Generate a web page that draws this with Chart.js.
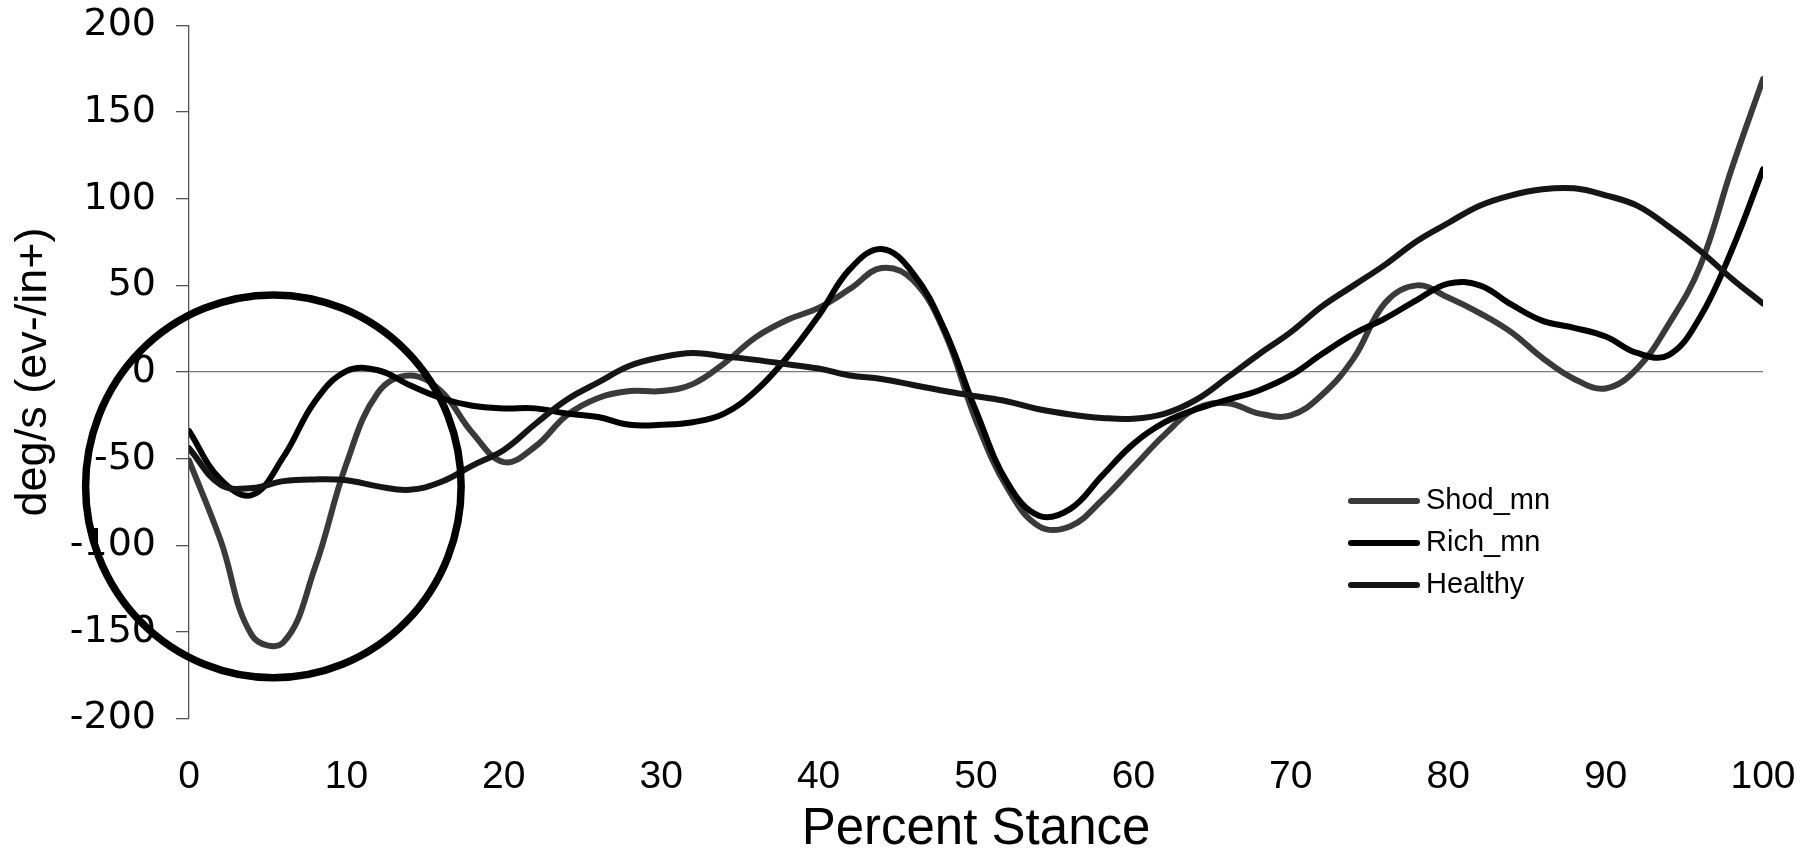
<!DOCTYPE html>
<html>
<head>
<meta charset="utf-8">
<title>Percent Stance</title>
<script src="https://cdn.jsdelivr.net/npm/chart.js@4.4.1/dist/chart.umd.min.js"></script>
<style>
  html, body { margin: 0; padding: 0; background: #fff; overflow: hidden; }
  #wrap { width: 1817px; height: 855px; position: relative; }
</style>
</head>
<body>
<div id="wrap"><canvas id="stanceChart"></canvas></div>
<script>
// percent of stance (x)
var stance = [0, 2, 4, 6, 8, 10, 12, 14, 16, 18, 20, 22, 24, 26, 28, 30, 32, 34, 36, 38, 40,
  42, 44, 46, 48, 50, 52, 54, 56, 58, 60, 62, 64, 66, 68, 70, 72, 74, 76, 78, 80,
  82, 84, 86, 88, 90, 92, 94, 96, 98, 100];

// deg/s
var shodMn = [-51, -97, -152, -156, -113, -53, -12, -2, -11, -35, -52, -43, -25, -15, -11, -11, -7, 5, 20, 30, 37,
  48, 60, 53, 23, -28, -67, -89, -89, -74, -55, -36, -21, -18, -24, -25, -13, 8, 40, 50, 43,
  34, 23, 8, -4, -9.5, 2, 27.5, 61, 117, 169];
var richMn = [-34, -62, -71, -49, -17, 0.5, 1, -7.5, -15, -19.5, -21, -21, -24, -26, -30.5, -30.5, -29, -24, -11, 8.5, 32.5,
  59.5, 71, 57, 24.5, -22.5, -64, -83, -79, -60, -41.5, -29, -21.5, -16, -10.5, -2, 10.5, 22, 31, 41.5, 51,
  50, 39, 29.5, 25.5, 20.5, 11, 9.7, 31.6, 70, 117];
var healthy = [-44, -65, -67, -63, -62, -62.5, -66, -68, -63.5, -54, -45, -30, -16, -6, 3.6, 8.5, 11, 9, 7, 4.5, 2,
  -2, -4, -7.5, -11, -14, -17, -21.5, -24.5, -26.5, -27, -24, -16, -3, 10.4, 23, 38, 50, 62, 75.5, 86,
  96, 102, 105.5, 106, 102, 96, 84, 70, 54, 39.5];

var seriesNames = ["Shod_mn", "Rich_mn", "Healthy"];
var seriesColors = ["#3a3a3a", "#000000", "#151515"];

// circled region: centre x, centre y, radius x, radius y (data units)
var circleMark = [5.36, -66, 11.93, 110.5];

var fontFamily = '"Liberation Sans", Arial, Helvetica, sans-serif';

function toPoints(values) {
  return stance.map(function (x, i) { return { x: x, y: values[i] }; });
}

// legend sitting inside the plot, right of centre
var insideLegend = {
  id: 'insideLegend',
  afterDraw: function (chart, args, opts) {
    var ctx = chart.ctx;
    chart.data.datasets.forEach(function (ds, i) {
      var y = opts.top + i * opts.rowGap;
      ctx.save();
      ctx.strokeStyle = ds.borderColor;
      ctx.lineWidth = 6;
      ctx.lineCap = 'round';
      ctx.beginPath();
      ctx.moveTo(opts.left, y);
      ctx.lineTo(opts.left + opts.lineLen, y);
      ctx.stroke();
      ctx.fillStyle = '#000';
      ctx.font = opts.font;
      ctx.textAlign = 'left';
      ctx.textBaseline = 'middle';
      ctx.fillText(ds.label, opts.left + opts.lineLen + opts.gap, y);
      ctx.restore();
    });
  }
};

// the big circle round the first 15 %
var circlePlugin = {
  id: 'circleMark',
  afterDraw: function (chart) {
    var xs = chart.scales.x, ys = chart.scales.y, ctx = chart.ctx;
    var cx = xs.getPixelForValue(circleMark[0]);
    var cy = ys.getPixelForValue(circleMark[1]);
    var rx = Math.abs(xs.getPixelForValue(circleMark[0] + circleMark[2]) - cx);
    var ry = Math.abs(ys.getPixelForValue(circleMark[1] + circleMark[3]) - cy);
    ctx.save();
    ctx.beginPath();
    ctx.ellipse(cx, cy, rx, ry, 0, 0, 2 * Math.PI);
    ctx.lineWidth = 7.5;
    ctx.strokeStyle = '#000';
    ctx.stroke();
    ctx.restore();
  }
};

new Chart(document.getElementById('stanceChart'), {
  type: 'line',
  data: {
    datasets: [
      { label: seriesNames[0], data: toPoints(shodMn), borderColor: seriesColors[0], order: 2 },
      { label: seriesNames[1], data: toPoints(richMn), borderColor: seriesColors[1], order: 1 },
      { label: seriesNames[2], data: toPoints(healthy), borderColor: seriesColors[2], order: 0 }
    ]
  },
  options: {
    responsive: true,
    maintainAspectRatio: false,
    animation: false,
    layout: { padding: { top: 25.5, right: 54, left: 0, bottom: 0 } },
    elements: {
      point: { radius: 0 },
      line: { borderWidth: 6, tension: 0.4, borderCapStyle: 'round', borderJoinStyle: 'round', fill: false }
    },
    plugins: {
      legend: { display: false },
      tooltip: { enabled: false },
      insideLegend: { left: 1351, lineLen: 66, gap: 9, top: 501, rowGap: 42, font: '29px ' + fontFamily }
    },
    scales: {
      x: {
        type: 'linear',
        min: 0,
        max: 100,
        ticks: { stepSize: 10, color: '#000', padding: 27, maxRotation: 0, font: { family: fontFamily, size: 39 } },
        grid: { display: false },
        border: { display: false },
        title: {
          display: true,
          text: 'Percent Stance',
          color: '#000',
          font: { family: fontFamily, size: 51, lineHeight: 1 },
          padding: { top: 0, bottom: 0 }
        },
        afterFit: function (scale) {
          scale.height = 136.5;
          scale.paddingLeft = 0;
          scale.paddingRight = 0;
        }
      },
      y: {
        min: -200,
        max: 200,
        ticks: { stepSize: 50, color: '#000', padding: 20, font: { family: '"DejaVu Sans", sans-serif', size: 38 } },
        grid: {
          color: function (c) { return c.tick && c.tick.value === 0 ? '#7a7a7a' : 'rgba(0,0,0,0)'; },
          tickColor: '#555',
          tickLength: 13,
          lineWidth: 1.3
        },
        border: { color: '#555', width: 1.3 },
        title: {
          display: true,
          text: 'deg/s (ev-/in+)',
          color: '#000',
          font: { family: fontFamily, size: 45 },
          padding: { top: 7, bottom: 0 }
        },
        afterFit: function (scale) {
          scale.width = 189;
          scale.paddingTop = 0;
          scale.paddingBottom = 0;
        }
      }
    }
  },
  plugins: [insideLegend, circlePlugin]
});
</script>
</body>
</html>
